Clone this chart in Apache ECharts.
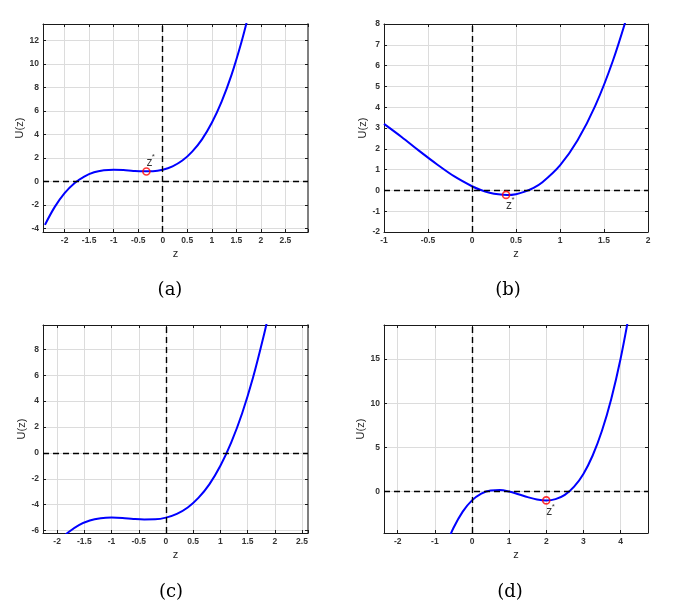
<!DOCTYPE html>
<html>
<head>
<meta charset="utf-8">
<title>U(z)</title>
<script src="https://cdn.jsdelivr.net/npm/echarts@6/dist/echarts.min.js"></script>
<style>
    html, body { margin: 0; padding: 0; background: #fff; }
    #main { width: 674px; height: 613px; }
</style>
</head>
<body>
<div id="main"></div>
<script>
// ===== 数据 =====

// (a)
var zA = [-2.4, -2.2, -2.0, -1.8, -1.6, -1.4, -1.2, -1.0, -0.8, -0.6, -0.4, -0.2, 0, 0.2, 0.4, 0.6, 0.8, 1.0, 1.2, 1.4, 1.6, 1.75]
var uA = [-3.70, -2.17, -1.00, -0.15, 0.42, 0.78, 0.95, 1.00, 0.97, 0.90, 0.86, 0.87, 1.00, 1.29, 1.78, 2.54, 3.59, 5.00, 6.81, 9.06, 11.82, 14.23]
var starA = [-0.333, 0.852]

// (b)
var zB = [-1.0, -0.8, -0.6, -0.4, -0.2, 0, 0.1, 0.2, 0.3, 0.4, 0.5, 0.6, 0.7, 0.8, 1.0, 1.2, 1.4, 1.6, 1.8]
var uB = [3.20, 2.57, 1.90, 1.26, 0.67, 0.20, 0.02, -0.11, -0.19, -0.22, -0.18, -0.06, 0.12, 0.39, 1.20, 2.41, 4.06, 6.22, 8.91]
var starB = [0.387, -0.217]

// (c)
var zC = [-1.9, -1.8, -1.6, -1.4, -1.2, -1.0, -0.8, -0.6, -0.4, -0.2, 0, 0.2, 0.4, 0.6, 0.8, 1.0, 1.2, 1.4, 1.6, 1.8, 1.9]
var uC = [-6.54, -6.15, -5.58, -5.22, -5.05, -5.00, -5.03, -5.10, -5.14, -5.13, -5.00, -4.71, -4.22, -3.46, -2.41, -1.00, 0.81, 3.06, 5.82, 9.11, 10.98]

// (d)
var zD = [-0.7, -0.5, -0.25, 0, 0.25, 0.5, 0.75, 1.0, 1.25, 1.5, 1.75, 2.0, 2.25, 2.5, 2.75, 3.0, 3.25, 3.5, 3.75, 4.0, 4.25]
var uD = [-6.10, -4.13, -2.27, -1.00, -0.23, 0.13, 0.17, 0.00, -0.30, -0.63, -0.89, -1.00, -0.86, -0.38, 0.55, 2.00, 4.08, 6.88, 10.48, 15.00, 20.52]
var starD = [2.0, -1.0]

// 坐标轴范围 [min, max, 刻度间隔]
var xRange = [[-2.44, 2.96, 0.5], [-1, 2, 0.5], [-2.26, 2.61, 0.5], [-2.37, 4.74, 1]]
var yRange = [[-4.31, 13.42, 2], [-2, 8, 1], [-6.19, 9.88, 2], [-4.69, 18.85, 5]]
var captions = ['(a)', '(b)', '(c)', '(d)']

// ===== 布局 =====
var grids = [
    { left: 43, top: 24, width: 265, height: 208 },
    { left: 384, top: 24, width: 264, height: 208 },
    { left: 43, top: 325, width: 265, height: 208 },
    { left: 384, top: 325, width: 264, height: 208 }
]
var captionPos = [[170, 290], [508, 290], [171, 592], [510, 592]]

var FONT = 'Liberation Sans'

function pairs(xs, ys) {
    var out = []
    for (var i = 0; i < xs.length; i++) {
        out.push([xs[i], ys[i]])
    }
    return out
}

// 只显示整齐的刻度值 (边界上的非整齐值不显示)
function tickFormatter(step) {
    return function (v) {
        var k = v / step
        if (Math.abs(k - Math.round(k)) > 1e-6) return ''
        return String(+v.toFixed(2))
    }
}

function makeAxis(idx, range, position, isMain, grayLine) {
    return {
        type: 'value',
        gridIndex: idx,
        position: position,
        min: range[0],
        max: range[1],
        minInterval: range[2],
        maxInterval: range[2],
        splitNumber: 20,
        axisLine: {
            show: true,
            onZero: false,
            lineStyle: { color: grayLine ? '#808080' : '#1a1a1a', width: grayLine ? 2 : 1 }
        },
        axisTick: {
            show: true,
            inside: true,
            length: 3,
            lineStyle: { color: '#1a1a1a', width: 1 }
        },
        axisLabel: {
            show: isMain,
            showMinLabel: true,
            showMaxLabel: true,
            margin: 4,
            fontSize: 8.5,
            fontWeight: 'bold',
            fontFamily: FONT,
            color: '#333',
            formatter: tickFormatter(range[2])
        },
        splitLine: {
            show: isMain,
            lineStyle: { color: '#dcdcdc', width: 1 }
        }
    }
}

var xAxes = []
var yAxes = []
var series = []
var graphics = []
var curves = [[zA, uA], [zB, uB], [zC, uC], [zD, uD]]
var stars = [starA, starB, null, starD]
// z* 标注位置 (相对圆圈, 像素)
var zOffset = [[3, -9], [3, 11], null, [3, 11]]
var sOffset = [[7, -15], [7, 5], null, [7, 6]]

for (var i = 0; i < 4; i++) {
    var xb = makeAxis(i, xRange[i], 'bottom', true, false)
    xb.name = 'z'
    xb.nameLocation = 'middle'
    xb.nameGap = 16
    xb.nameTextStyle = { fontSize: 11, fontFamily: FONT, color: '#262626' }
    var xt = makeAxis(i, xRange[i], 'top', false, false)

    var yl = makeAxis(i, yRange[i], 'left', true, false)
    yl.name = 'U(z)'
    yl.nameLocation = 'middle'
    yl.nameGap = 13
    yl.nameTextStyle = { fontSize: 11, fontFamily: FONT, color: '#262626' }
    var yr = makeAxis(i, yRange[i], 'right', false, i === 0 || i === 2)

    xAxes.push(xb, xt)
    yAxes.push(yl, yr)

    series.push({
        type: 'line',
        xAxisIndex: 2 * i,
        yAxisIndex: 2 * i,
        data: pairs(curves[i][0], curves[i][1]),
        smooth: 0.35,
        showSymbol: false,
        clip: true,
        lineStyle: { color: '#0000ff', width: 2 },
        markLine: {
            silent: true,
            symbol: ['none', 'none'],
            label: { show: false },
            lineStyle: { color: '#000', type: [6, 4], width: 1.4 },
            data: [{ xAxis: 0 }, { yAxis: 0 }]
        },
        z: 3
    })

    if (stars[i]) {
        series.push({
            type: 'scatter',
            xAxisIndex: 2 * i,
            yAxisIndex: 2 * i,
            data: [stars[i]],
            symbol: 'circle',
            symbolSize: 7,
            itemStyle: { color: 'rgba(0,0,0,0)', borderColor: '#ff0000', borderWidth: 1.6 },
            label: {
                show: true,
                position: 'inside',
                offset: zOffset[i],
                formatter: 'z',
                fontSize: 12,
                fontFamily: FONT,
                color: '#000'
            },
            z: 5
        })
        series.push({
            type: 'scatter',
            xAxisIndex: 2 * i,
            yAxisIndex: 2 * i,
            data: [stars[i]],
            symbolSize: 1,
            itemStyle: { color: 'rgba(0,0,0,0)' },
            label: {
                show: true,
                position: 'inside',
                offset: sOffset[i],
                formatter: '*',
                fontSize: 8,
                fontFamily: FONT,
                color: '#000'
            },
            z: 5
        })
    }

    graphics.push({
        type: 'text',
        x: captionPos[i][0],
        y: captionPos[i][1],
        style: {
            text: captions[i],
            font: '18px "DejaVu Serif"',
            fill: '#000',
            align: 'center',
            verticalAlign: 'middle'
        }
    })
}

var myChart = echarts.init(document.getElementById('main'))

var option = {
    animation: false,
    backgroundColor: '#fff',
    grid: grids,
    xAxis: xAxes,
    yAxis: yAxes,
    series: series,
    graphic: graphics
}

myChart.setOption(option)
</script>
</body>
</html>
